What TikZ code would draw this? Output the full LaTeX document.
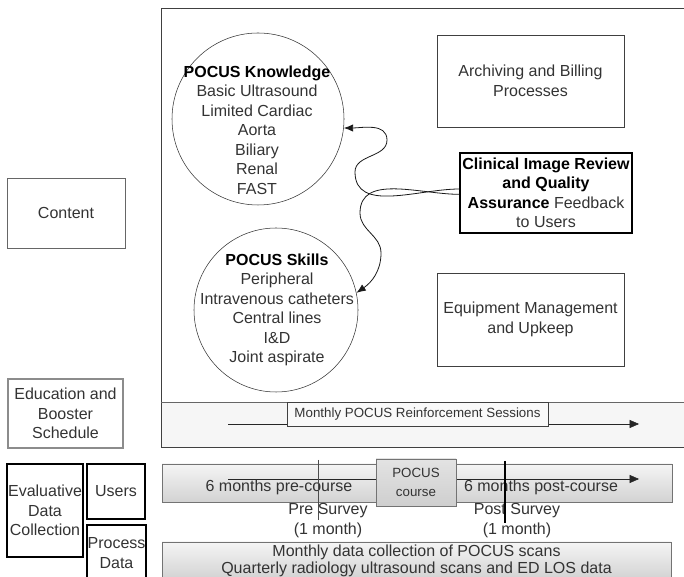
\documentclass[tikz,border=0pt]{standalone}
\usepackage{fontspec}
\setmainfont{Liberation Sans}
\usetikzlibrary{arrows.meta}

\begin{document}
\begin{tikzpicture}[x=0.75pt, y=0.75pt,
  box/.style={draw=black!75, inner sep=0pt, align=center, text=black!80, font=\fontsize{12}{14.6}\selectfont},
  rim/.style={circle, draw=black!80, inner sep=0pt},
  txt/.style={inner sep=0pt, align=center, text=black!80, font=\fontsize{12}{14.6}\selectfont},
  bar/.style={draw=black!55, inner sep=0pt, top color=gray!8, bottom color=gray!35, align=center, text=black!80, font=\fontsize{12}{14.6}\selectfont},
  tip/.style={-{Latex[length=7pt,width=5.5pt]}},
  runner/.style={black!85, -{Triangle[length=7pt,width=6pt]}},
]
  \useasboundingbox (0,0) rectangle (684,577);
  \clip (0,0) rectangle (684,577);

  % frame with the reinforcement band
  \fill[gray!7] (161,130) rectangle (700,175);
  \draw[black!75, line width=0.6pt] (161,130) rectangle (700,569);
  \draw[black!60] (161,175) -- (700,175);
  \coordinate (s0) at (228,153);
  \coordinate (s1) at (639,153);
  \draw[runner] (s0) -- (s1);
  \node[box, fill=gray!5, minimum width=195.75pt, minimum height=18pt, font=\fontsize{10}{12}\selectfont] (sessions) at (417.5,163) {Monthly POCUS Reinforcement Sessions};

  % knowledge and skills
  \node[rim, minimum size=129pt] (know) at (258,458) {};
  \node[txt] (knowtxt) at (257,447) {\textbf{\color{black}POCUS Knowledge}\\Basic Ultrasound\\Limited Cardiac\\Aorta\\Biliary\\Renal\\FAST};
  \node[rim, minimum size=123pt] (skills) at (276,267) {};
  \node[txt] (skillstxt) at (277,267) {\textbf{\color{black}POCUS Skills}\\Peripheral\\Intravenous catheters\\Central lines\\I\&D\\Joint aspirate};

  \node[box, minimum width=140.25pt, minimum height=69pt] (archive) at (530.5,496) {Archiving and Billing\\Processes};
  \node[box, draw=black, line width=1pt, minimum width=129pt, minimum height=60pt] (review) at (546,384) {\textbf{\color{black}Clinical Image Review}\\\textbf{\color{black}and Quality}\\\textbf{\color{black}Assurance} Feedback\\to Users};
  \node[box, minimum width=140.25pt, minimum height=69.75pt] (upkeep) at (530.5,257.5) {Equipment Management\\and Upkeep};

  \draw[tip, black!90, line width=0.6pt] ([yshift=3pt]review.west) to[out=180,in=-90] (355,405) to[out=90,in=-90] (387,437) to[out=90,in=0] (know.-6);
  \draw[tip, black!90, line width=0.6pt] ([yshift=-1pt]review.west) to[out=180,in=90] (360,364) to[out=-90,in=90] (381,324) to[out=-90,in=35] (skills.12);

  % left column
  \node[box, draw=black!60, minimum width=88.5pt, minimum height=52.5pt] (content) at (66,364) {Content};
  \node[box, draw=black!45, line width=1.1pt, minimum width=86.25pt, minimum height=51.75pt] (booster) at (65.5,163.5) {Education and\\Booster\\Schedule};
  \node[box, draw=black, line width=0.8pt, minimum width=57pt, minimum height=69.75pt] (evaluative) at (45,66.5) {Evaluative\\Data\\Collection};
  \node[box, draw=black, line width=0.8pt, minimum width=43.5pt, minimum height=41.25pt] (users) at (116,85.5) {Users};
  \node[box, draw=black, line width=0.8pt, minimum width=44.25pt, minimum height=42pt] (process) at (116.5,24) {Process\\Data};

  % timeline
  \node[bar, minimum width=382.5pt, minimum height=28.5pt] (period) at (417,94) {};
  \coordinate (t0) at (228,98);
  \coordinate (t1) at (639,98);
  \draw[runner] (t0) -- (t1);
  \node[bar, top color=gray!22, bottom color=gray!38, minimum width=60pt, minimum height=35.25pt, font=\fontsize{10}{14}\selectfont] (course) at (416,94.5) {POCUS\\course};
  \node[txt] (pre) at (279,90) {6 months pre-course};
  \node[txt] (post) at (541,90) {6 months post-course};
  \node[txt] (presurvey) at (328,56.5) {Pre Survey\\(1 month)};
  \node[txt] (postsurvey) at (517,56.5) {Post Survey\\(1 month)};
  \coordinate (p0) at (318,117);
  \coordinate (p1) at (318,57);
  \draw[black!70] (p0) -- (p1);
  \coordinate (q0) at (505,116);
  \coordinate (q1) at (505,54);
  \draw[black, line width=0.9pt] (q0) -- (q1);

  \node[bar, minimum width=381.75pt, minimum height=27.75pt, font=\fontsize{12}{12.75}\selectfont] (scans) at (416.5,16.5) {Monthly data collection of POCUS scans\\Quarterly radiology ultrasound scans and ED LOS data};
\end{tikzpicture}
\end{document}
